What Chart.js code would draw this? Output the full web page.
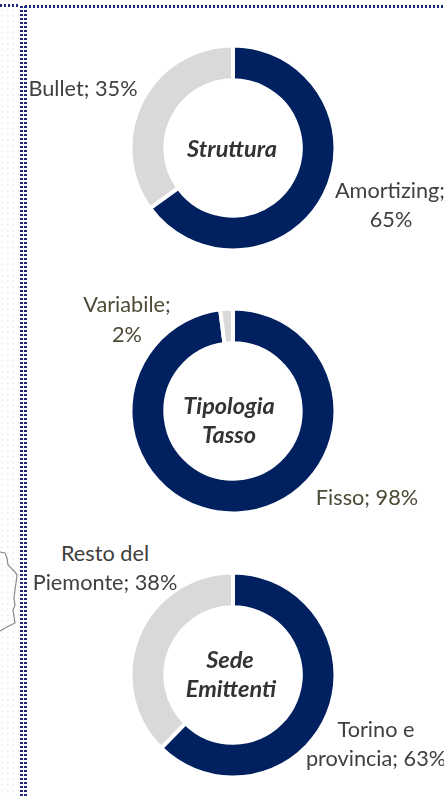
<!DOCTYPE html>
<html>
<head>
<meta charset="utf-8">
<script src="https://cdn.jsdelivr.net/npm/chart.js@4"></script>
<style>
    html, body { margin: 0; padding: 0; background: #fff; }
    #page { position: relative; width: 444px; height: 796px; overflow: hidden; font-family: Lato, "Open Sans", sans-serif; }
    #dots { position: absolute; left: 0; top: 8px; width: 20px; height: 788px;
        background-image: radial-gradient(circle at 2px 2px, #eeeeee 0.8px, transparent 1px); background-size: 5.67px 5.67px; }
    .line { position: absolute; background-repeat: repeat; }
    .h { height: 3px; background-image: linear-gradient(90deg, #1a2a78 0, #1a2a78 2.5px, transparent 2.5px); background-size: 4px 3px; }
    .v { width: 3px; background-image: linear-gradient(180deg, #1a2a78 0, #1a2a78 2.5px, transparent 2.5px); background-size: 3px 4px; }
    canvas { position: absolute; }
    svg { position: absolute; left: 0; top: 530px; }
    .label { position: absolute; white-space: nowrap; font-size: 21.7px; line-height: 29px; color: #404040; text-align: center; }
    .center { font-size: 23.5px; font-weight: bold; font-style: italic; color: #333; }
    .olive { color: #4d4a35; }
</style>
</head>
<body>
<div id="page">
    <div id="dots"></div>
    <div class="line h" style="left:0;top:4px;width:20px"></div>
    <div class="line h" style="left:25px;top:5px;width:419px"></div>
    <div class="line v" style="left:20px;top:6px;height:790px"></div>
    <div class="line v" style="left:24px;top:6px;height:790px"></div>
    <svg width="20" height="110"><polyline fill="none" stroke="#8a8a8a" stroke-width="1.2"
        points="0,22 5,23 7,28 8,35 15,42 17,45 16,53 15,60 14,68 15,75 13,80 15,93 7,97 0,101"/></svg>
    <canvas id="strutturaChart" width="210" height="210" style="left:128px;top:43px"></canvas>
    <canvas id="tassoChart" width="210" height="210" style="left:128px;top:306px"></canvas>
    <canvas id="sedeChart" width="210" height="210" style="left:128px;top:570px"></canvas>
    <div id="labels"></div>
</div>
<script>
    const strutturaCategories = ['Amortizing', 'Bullet'];
    const strutturaValues = [65, 35];
    const tassoCategories = ['Fisso', 'Variabile'];
    const tassoValues = [98, 2];
    const sedeCategories = ['Torino e provincia', 'Resto del Piemonte'];
    const sedeValues = [63, 38];
    const sliceColors = ['#002060', '#D9D9D9'];

    function createDonut(id, categories, values) {
        new Chart(document.getElementById(id).getContext('2d'), {
            type: 'doughnut',
            data: {
                labels: categories,
                datasets: [{
                    data: values,
                    backgroundColor: sliceColors,
                    borderColor: '#fff',
                    borderWidth: 4,
                    radius: 102.5,
                    cutout: '66%'
                }]
            },
            options: {
                responsive: false,
                animation: false,
                plugins: { legend: { display: false }, tooltip: { enabled: false } }
            }
        });
    }

    createDonut('strutturaChart', strutturaCategories, strutturaValues);
    createDonut('tassoChart', tassoCategories, tassoValues);
    createDonut('sedeChart', sedeCategories, sedeValues);

    // text, x centre, y centre, extra class
    const labelLayout = [
        ['Bullet; ' + strutturaValues[1] + '%', 83, 88, ''],
        [strutturaCategories[0] + ';', 390, 190, ''],
        [strutturaValues[0] + '%', 391, 219, ''],
        ['Struttura', 232, 148, 'center'],
        [tassoCategories[1] + ';', 127, 304, 'olive'],
        [tassoValues[1] + '%', 127, 334, 'olive'],
        [tassoCategories[0] + '; ' + tassoValues[0] + '%', 367, 497, 'olive'],
        ['Tipologia', 229, 405, 'center'],
        ['Tasso', 229, 434, 'center'],
        ['Resto del', 105, 553, ''],
        ['Piemonte; ' + sedeValues[1] + '%', 105, 582, ''],
        ['Torino e', 376, 729, ''],
        ['provincia; ' + sedeValues[0] + '%', 376, 758, ''],
        ['Sede', 230, 659, 'center'],
        ['Emittenti', 231, 688, 'center']
    ];

    const labelBox = document.getElementById('labels');
    labelLayout.forEach(function(item) {
        const el = document.createElement('div');
        el.className = 'label ' + item[3];
        el.textContent = item[0];
        el.style.left = item[1] + 'px';
        el.style.top = item[2] + 'px';
        el.style.transform = 'translate(-50%, -50%)';
        labelBox.appendChild(el);
    });
</script>
</body>
</html>
